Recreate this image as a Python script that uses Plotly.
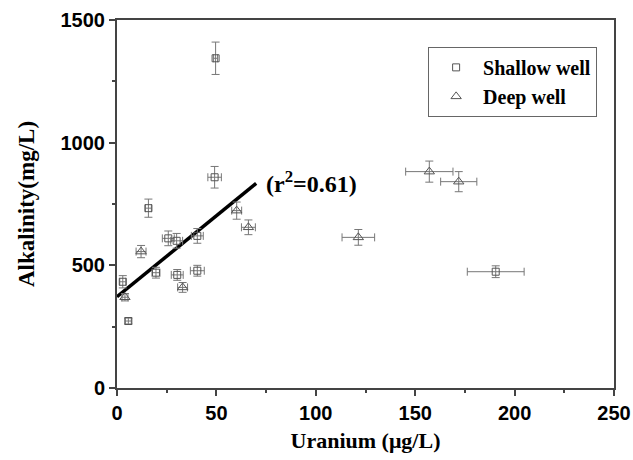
import plotly.graph_objects as go

# Shallow well data
shallow_u = [49.6, 49.1, 15.8, 25.8, 30.0, 40.4, 19.6, 30.3, 40.4, 2.9, 5.7, 190.5]
shallow_alk = [1344, 859, 733, 610, 600, 620, 470, 461, 478, 433, 273, 474]
shallow_u_err = [1.0, 3.4, 1.5, 3.0, 3.0, 3.0, 2.0, 3.0, 3.5, 1.5, 1.5, 14.3]
shallow_alk_err = [66, 44, 37, 30, 30, 30, 22, 22, 22, 25, 12, 24]

# Deep well data
deep_u = [4.0, 12.1, 33.0, 60.2, 66.1, 121.4, 157.1, 171.9]
deep_alk = [370, 556, 410, 723, 655, 614, 882, 841]
deep_u_err = [1.5, 2.5, 2.5, 2.5, 3.5, 8.2, 11.9, 9.1]
deep_alk_err = [15, 25, 20, 35, 30, 32, 43, 41]

# Regression line endpoints
fit_u = [0, 70]
fit_alk = [372, 834]

x_ticks = [0, 50, 100, 150, 200, 250]
y_ticks = [0, 500, 1000, 1500]

err_col = "#777777"
mk_col = "#555555"

fig = go.Figure()

fig.add_trace(go.Scatter(
    x=fit_u, y=fit_alk, mode="lines",
    line=dict(color="black", width=3.5), showlegend=False, hoverinfo="skip"))

fig.add_trace(go.Scatter(
    x=shallow_u, y=shallow_alk, mode="markers", name="Shallow well",
    marker=dict(symbol="square-open", size=7, color=mk_col, line=dict(width=1, color=mk_col)),
    error_y=dict(type="data", array=shallow_alk_err, color=err_col, thickness=1, width=4),
    error_x=dict(type="data", array=shallow_u_err, color=err_col, thickness=1, width=4)))

fig.add_trace(go.Scatter(
    x=deep_u, y=deep_alk, mode="markers", name="Deep well",
    marker=dict(symbol="triangle-up-open", size=9, color=mk_col, line=dict(width=1, color=mk_col)),
    error_y=dict(type="data", array=deep_alk_err, color=err_col, thickness=1, width=4),
    error_x=dict(type="data", array=deep_u_err, color=err_col, thickness=1, width=4)))

fig.add_annotation(
    x=74, y=840, xref="x", yref="y", showarrow=False, xanchor="left", yanchor="middle",
    text="(r<sup>2</sup>=0.61)",
    font=dict(family="Liberation Serif", size=24, color="black", weight="bold"))

axis_common = dict(
    showline=True, linecolor="#444444", linewidth=2, mirror=True,
    ticks="outside", ticklen=6, tickwidth=1.5, tickcolor="#444444",
    showgrid=False, zeroline=False, automargin=False,
    tickfont=dict(family="Liberation Sans", size=20, color="black", weight="bold"),
)

fig.update_xaxes(
    range=[0, 250], tickvals=x_ticks, ticktext=[str(v) for v in x_ticks],
    minor=dict(ticks="outside", ticklen=3, tickwidth=1.5, tickcolor="#444444", dtick=25, tick0=0),
    title=dict(text="Uranium (μg/L)", standoff=10,
               font=dict(family="Liberation Serif", size=22, color="black", weight="bold")),
    **axis_common)

fig.update_yaxes(
    range=[0, 1500], tickvals=y_ticks, ticktext=[str(v) for v in y_ticks],
    minor=dict(ticks="outside", ticklen=3, tickwidth=1.5, tickcolor="#444444", dtick=250, tick0=0),
    title=dict(text="Alkalinity(mg/L)", standoff=19,
               font=dict(family="Liberation Serif", size=23, color="black", weight="bold")),
    **axis_common)

fig.update_layout(
    width=633, height=460,
    margin=dict(l=117, r=19, t=20, b=72, autoexpand=False),
    paper_bgcolor="white", plot_bgcolor="white",
    showlegend=True,
    legend=dict(x=0.626, y=0.927, xanchor="left", yanchor="top",
                bordercolor="#666666", borderwidth=1, bgcolor="white",
                itemwidth=44,
                font=dict(family="Liberation Serif", size=20, color="black", weight="bold"),
                tracegroupgap=0),
)

fig.write_html("out.html",
               config={"displayModeBar": False},
               post_script="document.body.style.margin='0';document.body.style.overflow='hidden';")
